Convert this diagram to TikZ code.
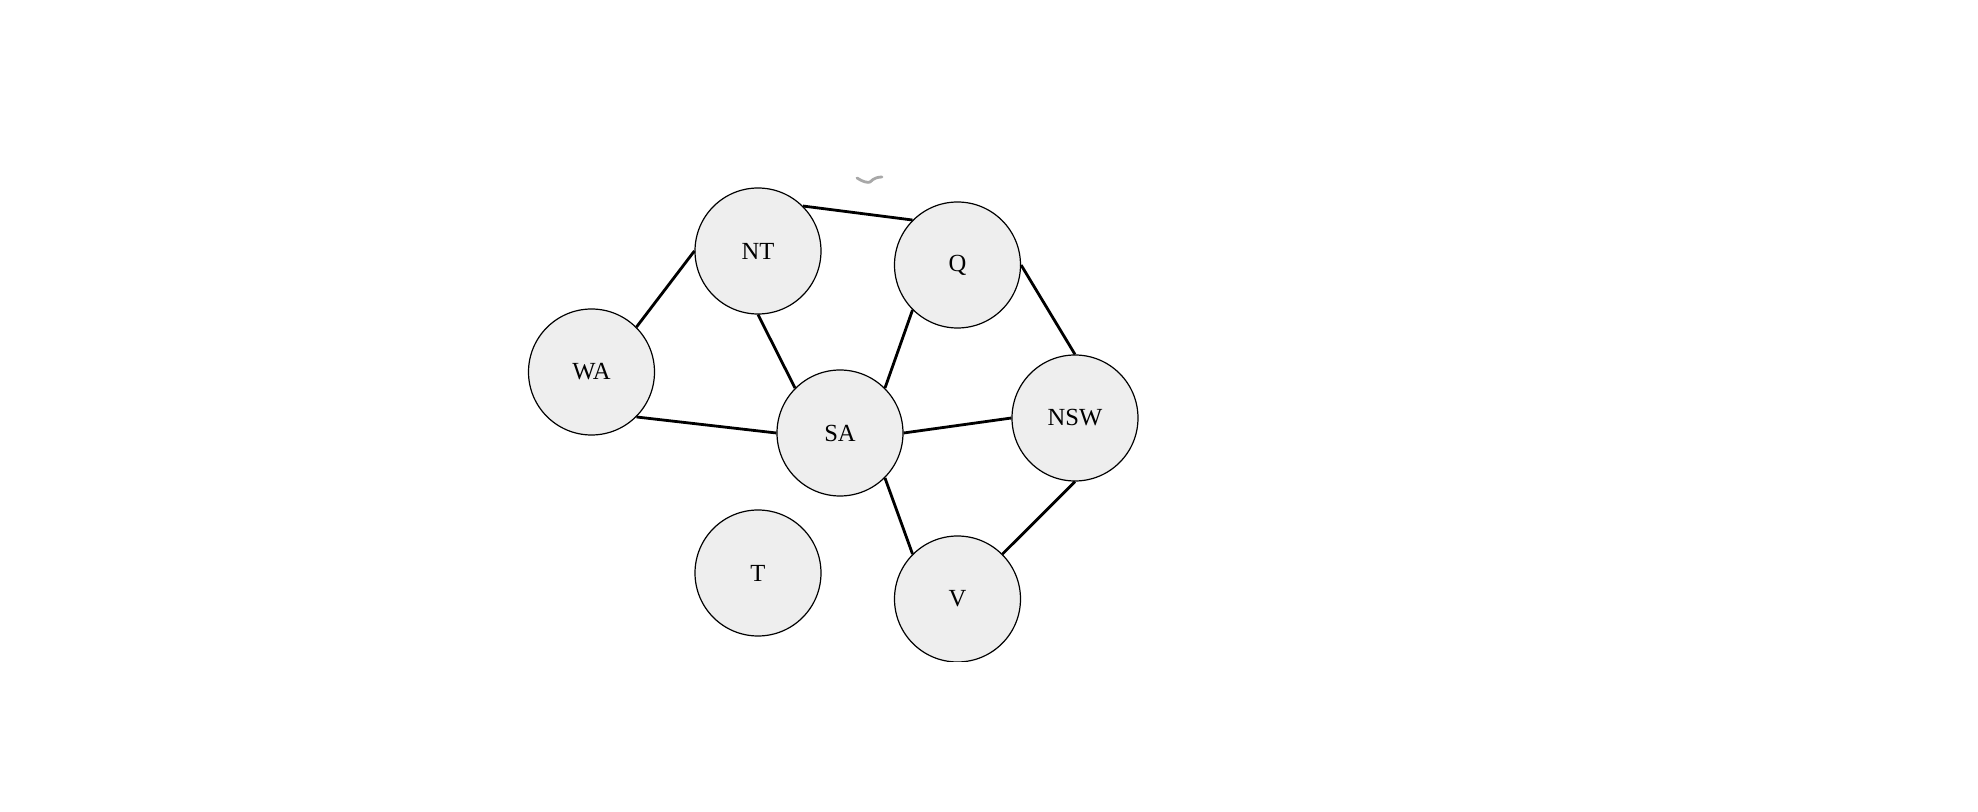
\documentclass[tikz,border=0pt]{standalone}
\usepackage{fontspec}
\setmainfont{Liberation Serif}
\definecolor{nodefill}{HTML}{EEEEEE}
\definecolor{markgray}{HTML}{A8A8A8}
\tikzset{
  state/.style={circle, draw=black, line width=0.6pt, fill=nodefill,
    minimum size=63pt, inner sep=0pt, font=\fontsize{12.3}{14}\selectfont},
  edge/.style={draw=black, line width=1.4pt}
}
\begin{document}
\begin{tikzpicture}[x=0.5pt, y=-0.5pt]
\useasboundingbox (0,0) rectangle (1978,812);
\node[state] (NT) at (758,251) {NT};
\node[state] (Q) at (957.5,265) {Q};
\node[state] (WA) at (591.5,372) {WA};
\node[state] (SA) at (840,433) {SA};
\node[state] (NSW) at (1075,418) {NSW};
\node[state] (T) at (758,573) {T};
\begin{scope}
  \clip (0,0) rectangle (1978,662);
  \node[state] (V) at (957.5,599) {V};
\end{scope}
\draw[edge] (WA.north east) -- (NT.west);
\draw[edge] (WA.south east) -- (SA.west);
\draw[edge] (NT.north east) -- (Q.north west);
\draw[edge] (NT.south) -- (SA.north west);
\draw[edge] (Q.south west) -- (SA.north east);
\draw[edge] (Q.east) -- (NSW.north);
\draw[edge] (SA.east) -- (NSW.west);
\draw[edge] (SA.south east) -- (V.north west);
\draw[edge] (NSW.south) -- (V.north east);
\draw[markgray, line width=1.4pt, line cap=round] (857,178) .. controls (863,182) and (868,183) .. (870,182) .. controls (874,178) and (878,177) .. (882,177);
\end{tikzpicture}
\end{document}
